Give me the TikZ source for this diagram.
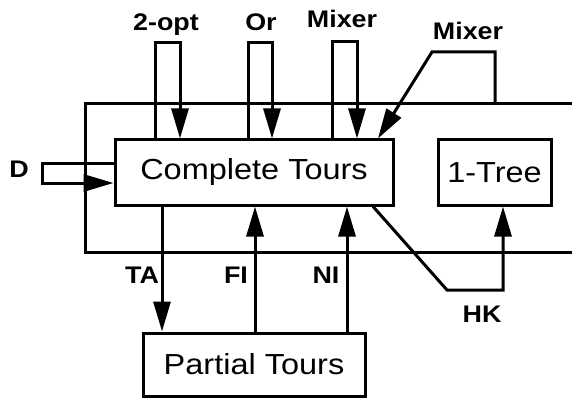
\documentclass[tikz,border=0pt]{standalone}
\usepackage{fontspec}
\setmainfont{Liberation Sans}[FakeStretch=1.12]
\usetikzlibrary{arrows.meta}
\begin{document}
\begin{tikzpicture}[x=1pt,y=-1pt, line width=3pt,
  box/.style={draw, rectangle, inner sep=0pt, font=\fontsize{29}{31}\selectfont},
  lab/.style={font=\bfseries\fontsize{24}{26}\selectfont, inner sep=0pt, anchor=base},
  arr/.style={-{Triangle[length=30pt,width=17pt]}}]
\useasboundingbox (0,0) rectangle (572,398);
% boxes
\node[box, minimum width=278pt, minimum height=65pt] (ct) at (254,172.5) {Complete Tours};
\node[box, minimum width=113pt, minimum height=65pt] (tree) at (494.5,172.5) {1-Tree};
\node[box, minimum width=222pt, minimum height=63pt] (pt) at (254,364.5) {Partial Tours};
% outer frame
\draw (572,104) -- (85,104) -- (85,252) -- (572,252);
\coordinate (otop) at (495,104);
% top loops
\coordinate (a1) at (155,43); \coordinate (a2) at (180,43);
\draw[arr] (ct.north -| a1) -- (a1) -- (a2) -- (ct.north -| a2);
\coordinate (b1) at (248,43); \coordinate (b2) at (272,43);
\draw[arr] (ct.north -| b1) -- (b1) -- (b2) -- (ct.north -| b2);
\coordinate (c1) at (332,42); \coordinate (c2) at (357,42);
\draw[arr] (ct.north -| c1) -- (c1) -- (c2) -- (ct.north -| c2);
\coordinate (m1) at (495,52); \coordinate (m2) at (432,52); \coordinate (m3) at (378,140);
\draw[arr] (otop) -- (m1) -- (m2) -- (ct.north -| m3);
% D loop
\coordinate (d1) at (42,164); \coordinate (d2) at (42,183);
\draw[arr] (ct.west |- d1) -- (d1) -- (d2) -- (ct.west |- d2);
% bottom connectors
\coordinate (ta) at (162,0); \coordinate (fi) at (255,0); \coordinate (ni) at (347,0);
\draw[arr] (ct.south -| ta) -- (pt.north -| ta);
\draw[arr] (pt.north -| fi) -- (ct.south -| fi);
\draw[arr] (pt.north -| ni) -- (ct.south -| ni);
\coordinate (h0) at (373,0); \coordinate (h1) at (447,290); \coordinate (h2) at (503,290);
\draw[arr] (ct.south -| h0) -- (h1) -- (h2) -- (tree.south -| h2);
% labels
\node[lab] (l2opt) at (166,31) {2-opt};
\node[lab] (lor) at (261,31) {Or};
\node[lab] (lmix1) at (342,28) {Mixer};
\node[lab] (lmix2) at (468,40) {Mixer};
\node[lab] (ld) at (19,177) {D};
\node[lab] (lta) at (142,283) {TA};
\node[lab] (lfi) at (236,283) {FI};
\node[lab] (lni) at (326,283) {NI};
\node[lab] (lhk) at (482,322) {HK};
\end{tikzpicture}
\end{document}
